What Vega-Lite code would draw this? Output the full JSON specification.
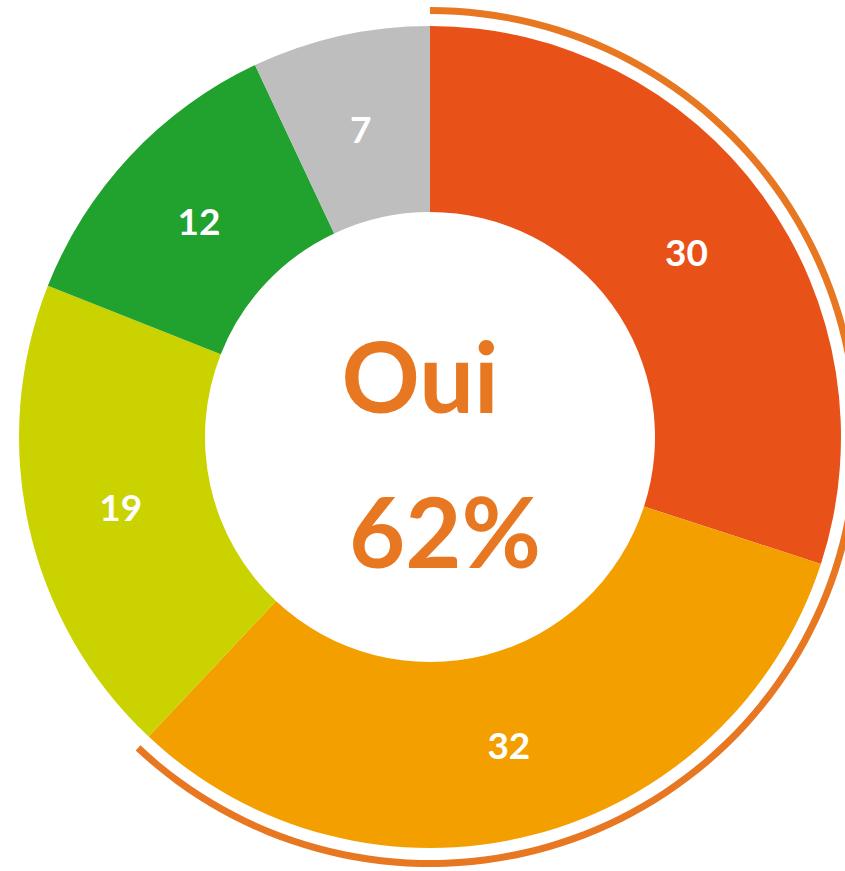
{
  "$schema": "https://vega.github.io/schema/vega-lite/v6.json",
  "width": 860,
  "height": 874,
  "padding": 0,
  "autosize": "none",
  "background": "white",
  "config": {"view": {"stroke": null}},
  "datasets": {
    "parts": [
      {"i": 1, "cat": "A", "value": 30},
      {"i": 2, "cat": "B", "value": 32},
      {"i": 3, "cat": "C", "value": 19},
      {"i": 4, "cat": "D", "value": 12},
      {"i": 5, "cat": "E", "value": 7}
    ],
    "ring": [
      {"i": 1, "k": "Oui", "value": 62},
      {"i": 2, "k": "Non", "value": 38}
    ],
    "center": [
      {"line": "Oui", "text": "Oui"},
      {"line": "pct", "text": "62%"}
    ]
  },
  "resolve": {"scale": {"color": "independent", "theta": "independent"}},
  "layer": [
    {
      "data": {"name": "ring"},
      "mark": {"type": "arc", "radius": 423, "radius2": 430, "stroke": null},
      "encoding": {
        "theta": {"field": "value", "type": "quantitative", "stack": true},
        "order": {"field": "i"},
        "color": {"field": "k", "type": "nominal", "scale": {"domain": ["Oui", "Non"], "range": ["#E87722", "rgba(0,0,0,0)"]}, "legend": null}
      }
    },
    {
      "data": {"name": "parts"},
      "layer": [
        {
          "mark": {"type": "arc", "radius": 411, "radius2": 225, "stroke": null},
          "encoding": {
            "theta": {"field": "value", "type": "quantitative", "stack": true},
            "order": {"field": "i"},
            "color": {"field": "cat", "type": "nominal", "scale": {"domain": ["A", "B", "C", "D", "E"], "range": ["#E85218", "#F39F00", "#CAD300", "#21A22F", "#BEBEBE"]}, "legend": null}
          }
        },
        {
          "mark": {"type": "text", "radius": 317, "font": "Lato", "fontWeight": "bold", "fontSize": 37, "fill": "white", "align": "center", "baseline": "middle", "dy": 4},
          "encoding": {
            "theta": {"field": "value", "type": "quantitative", "stack": true},
            "order": {"field": "i"},
            "text": {"field": "value", "type": "quantitative"}
          }
        }
      ]
    },
    {
      "data": {"name": "center"},
      "transform": [{"filter": "datum.line == 'Oui'"}],
      "mark": {"type": "text", "font": "Lato", "fontWeight": "bold", "fontSize": 97, "fill": "#E87722", "align": "center", "baseline": "alphabetic", "dx": -10, "dy": -24},
      "encoding": {"text": {"field": "text"}}
    },
    {
      "data": {"name": "center"},
      "transform": [{"filter": "datum.line == 'pct'"}],
      "mark": {"type": "text", "font": "Lato", "fontWeight": "bold", "fontSize": 97, "fill": "#E87722", "align": "center", "baseline": "alphabetic", "dx": 15, "dy": 131},
      "encoding": {"text": {"field": "text"}}
    }
  ]
}
